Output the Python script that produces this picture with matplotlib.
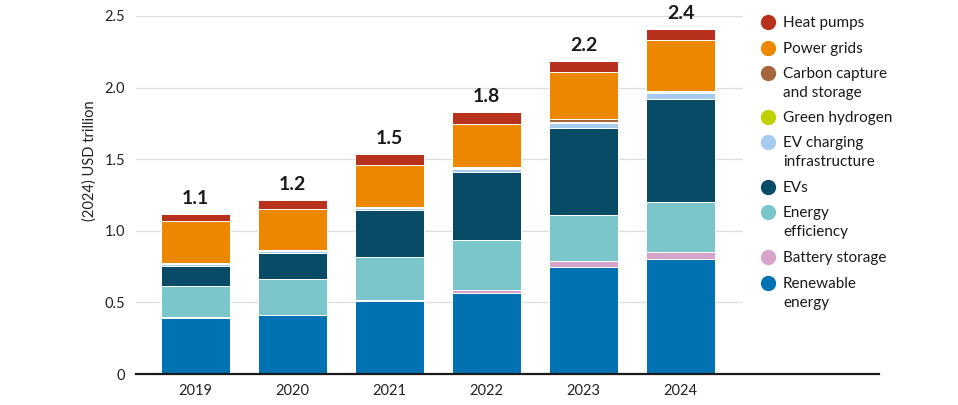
import numpy as np
import matplotlib
matplotlib.use("Agg")
import matplotlib.pyplot as plt
from matplotlib.lines import Line2D

plt.rcParams['font.family'] = ['Lato', 'DejaVu Sans']

# data (USD trillion, 2024 prices), stacked bottom to top
years = ["2019", "2020", "2021", "2022", "2023", "2024"]
renewable = [0.39, 0.41, 0.51, 0.568, 0.75, 0.80]
battery = [0.005, 0.005, 0.01, 0.02, 0.04, 0.055]
efficiency = [0.22, 0.25, 0.30, 0.35, 0.32, 0.345]
evs = [0.14, 0.18, 0.325, 0.47, 0.61, 0.72]
ev_charging = [0.015, 0.015, 0.015, 0.025, 0.035, 0.04]
hydrogen = [0.002, 0.002, 0.003, 0.004, 0.008, 0.01]
ccs = [0.003, 0.003, 0.005, 0.006, 0.015, 0.008]
grids = [0.29, 0.285, 0.29, 0.30, 0.33, 0.355]
heat_pumps = [0.055, 0.065, 0.08, 0.085, 0.08, 0.075]
total_labels = ["1.1", "1.2", "1.5", "1.8", "2.2", "2.4"]

series = [
    ("Renewable\nenergy", renewable, "#0072B1"),
    ("Battery storage", battery, "#D6A3CB"),
    ("Energy\nefficiency", efficiency, "#7AC6CB"),
    ("EVs", evs, "#084B66"),
    ("EV charging\ninfrastructure", ev_charging, "#A6CBEE"),
    ("Green hydrogen", hydrogen, "#BFD200"),
    ("Carbon capture\nand storage", ccs, "#A5663D"),
    ("Power grids", grids, "#EE8700"),
    ("Heat pumps", heat_pumps, "#B8311D"),
]

fig = plt.figure(figsize=(9.58, 4.05), dpi=100)
ax = fig.add_axes([136 / 958, 1 - 374 / 405, 607 / 958, 358 / 405])

x = np.arange(len(years))
bottom = np.zeros(len(years))
for name, vals, col in series:
    ax.bar(x, vals, width=0.71, bottom=bottom, color=col,
           edgecolor="white", linewidth=0.7, zorder=3)
    bottom += np.array(vals)

# totals on top of each bar
for xi, top, lab in zip(x, bottom, total_labels):
    ax.annotate(lab, (xi, top), xytext=(0, 5), textcoords="offset points",
                ha="center", va="bottom", fontsize=14, fontweight="bold",
                color="#1a1a1a")

ax.set_xlim(-0.613, 5.644)
ax.set_ylim(0, 2.5)
ax.set_yticks([0, 0.5, 1.0, 1.5, 2.0, 2.5])
ax.set_yticklabels(["0", "0.5", "1.0", "1.5", "2.0", "2.5"])
ax.set_xticks(x)
ax.set_xticklabels(years)
ax.tick_params(axis="both", length=0, labelsize=10.5, colors="#222222")
ax.tick_params(axis="y", pad=8)
ax.tick_params(axis="x", pad=7)
for s in ax.spines.values():
    s.set_visible(False)
ax.yaxis.grid(True, color="#DDDDDD", linewidth=0.9, zorder=0)
ax.set_axisbelow(True)

# baseline runs out under the legend
fig.add_artist(Line2D([136 / 958, 879 / 958], [1 - 374 / 405] * 2,
                      color="#1a1a1a", linewidth=1.6))

fig.text(90 / 958, 1 - 161 / 405, "(2024) USD trillion", rotation=90,
         ha="center", va="center", fontsize=10.5, color="#222222")

# legend drawn by hand, top item first
legend_y = [22, 48, 73, 117, 142, 187, 212, 257, 283]
for (name, vals, col), yy in zip(reversed(series), legend_y):
    fig.add_artist(Line2D([768 / 958], [1 - yy / 405], marker="o",
                          markersize=10, color=col, linestyle="none"))
    fig.text(783 / 958, 1 - (yy - 6) / 405, name, ha="left", va="top",
             fontsize=11, color="#1a1a1a", linespacing=1.45)

fig.savefig("out.png", dpi=100)
